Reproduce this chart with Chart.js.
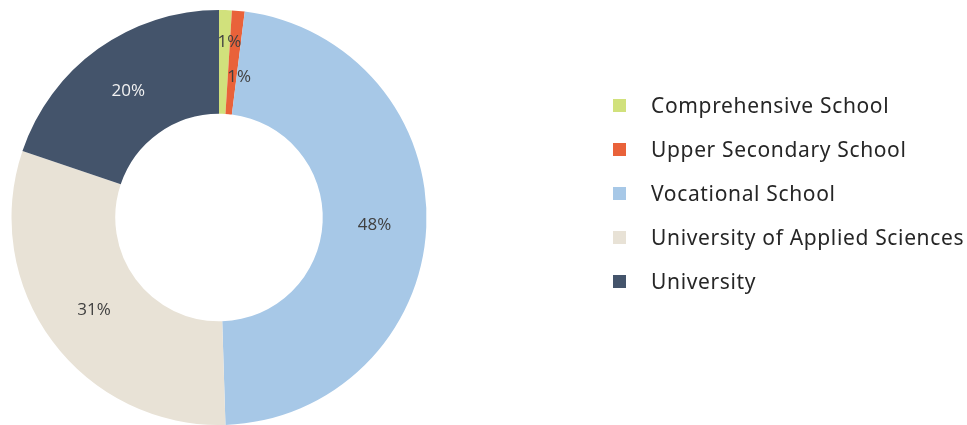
<!DOCTYPE html>
<html>
<head>
<meta charset="utf-8">
<script src="https://cdn.jsdelivr.net/npm/chart.js@4.4.0/dist/chart.umd.min.js"></script>
<style>
  html, body { margin: 0; padding: 0; background: #fff; }
  #wrap { position: relative; width: 967px; height: 425px; }
  #legend { position: absolute; left: 613px; top: 91px; font-family: "Noto Sans", sans-serif; font-size: 21px; letter-spacing: 0.65px; color: #262626; }
  #legend div { height: 44px; display: flex; align-items: flex-start; }
  #legend span.box { width: 13px; height: 13px; margin-top: 8px; margin-right: 25px; }
</style>
</head>
<body>
<div id="wrap">
  <canvas id="school-chart" width="967" height="425"></canvas>
  <div id="legend"></div>
</div>
<script>
const schoolLabels = ["Comprehensive School", "Upper Secondary School", "Vocational School", "University of Applied Sciences", "University"];
const schoolShares = [1, 1, 48, 31, 20];
const schoolColors = ["#d1e17c", "#e9623a", "#a7c8e7", "#e8e2d6", "#44546b"];
const labelColors = ["#404040", "#404040", "#404040", "#404040", "#f2f2f2"];
// the two thin slices get their labels pushed in/out and sideways so they don't overlap
const labelShift = [20, -15, 0, 0, 0];
const labelNudgeX = [5, 7, 0, 0, 0];

// percent labels at the middle of each ring segment
const sliceLabels = {
  id: 'sliceLabels',
  afterDatasetsDraw(chart) {
    const { ctx } = chart;
    const arcs = chart.getDatasetMeta(0).data;
    ctx.save();
    ctx.font = '17px "Open Sans", sans-serif';
    ctx.textAlign = 'center';
    ctx.textBaseline = 'middle';
    arcs.forEach((arc, i) => {
      const { x, y, startAngle, endAngle, innerRadius, outerRadius } = arc.getProps(['x', 'y', 'startAngle', 'endAngle', 'innerRadius', 'outerRadius'], true);
      const mid = (startAngle + endAngle) / 2;
      const r = (innerRadius + outerRadius) / 2 + labelShift[i];
      ctx.fillStyle = labelColors[i];
      ctx.fillText(schoolShares[i] + '%', x + Math.cos(mid) * r + labelNudgeX[i], y + Math.sin(mid) * r);
    });
    ctx.restore();
  }
};

const schoolCtx = document.getElementById('school-chart').getContext('2d');
const schoolChart = new Chart(schoolCtx, {
  type: 'doughnut',
  data: {
    labels: schoolLabels,
    datasets: [{
      data: schoolShares,
      backgroundColor: schoolColors,
      borderWidth: 0
    }]
  },
  options: {
    responsive: false,
    animation: false,
    cutout: '50%',
    layout: { padding: { left: 11, right: 540, top: 10, bottom: 0 } },
    plugins: {
      legend: { display: false },
      tooltip: { enabled: false }
    }
  },
  plugins: [sliceLabels]
});

// legend built from the chart's own label items
const legendEl = document.getElementById('legend');
schoolChart.options.plugins.legend.labels.generateLabels(schoolChart).forEach(item => {
  const row = document.createElement('div');
  const box = document.createElement('span');
  box.className = 'box';
  box.style.background = item.fillStyle;
  row.appendChild(box);
  row.appendChild(document.createTextNode(item.text));
  legendEl.appendChild(row);
});
</script>
</body>
</html>
